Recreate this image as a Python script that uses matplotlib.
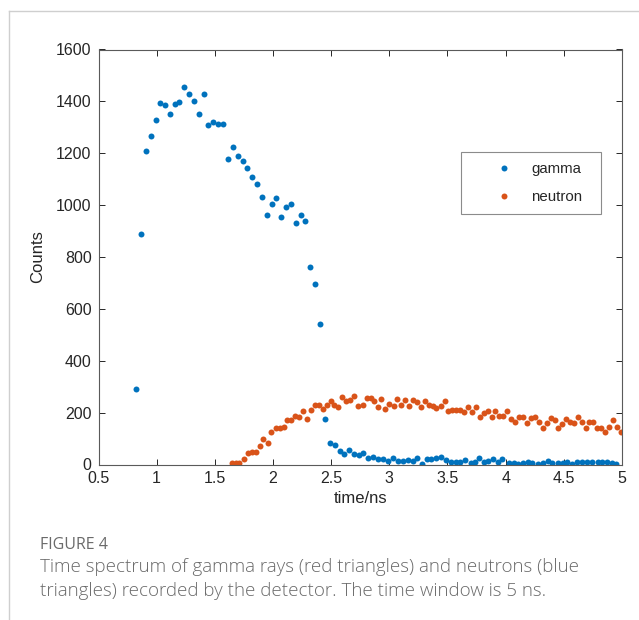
"""
Time spectrum of gamma rays and neutrons recorded by the detector.
"""
import matplotlib
matplotlib.use('Agg')
import matplotlib.pyplot as plt
from matplotlib.lines import Line2D

# gamma counts per time bin (ns)
gamma_t = [0.821, 0.863, 0.906, 0.949, 0.990, 1.030, 1.073, 1.113, 1.156, 1.196,
           1.239, 1.279, 1.322, 1.362, 1.405, 1.445, 1.488, 1.531, 1.571, 1.614,
           1.654, 1.697, 1.740, 1.780, 1.820, 1.863, 1.906, 1.946, 1.989, 2.029,
           2.072, 2.112, 2.155, 2.195, 2.238, 2.278, 2.321, 2.364, 2.407, 2.444,
           2.487, 2.530, 2.573, 2.613, 2.656, 2.696, 2.740, 2.774, 2.817, 2.860,
           2.903, 2.946, 2.989, 3.032, 3.075, 3.118, 3.161, 3.200, 3.237, 3.280,
           3.320, 3.360, 3.400, 3.440, 3.490, 3.530, 3.570, 3.610, 3.650, 3.700,
           3.740, 3.773, 3.810, 3.850, 3.890, 3.930, 3.970, 4.030, 4.070, 4.110,
           4.150, 4.190, 4.230, 4.280, 4.320, 4.360, 4.400, 4.450, 4.490, 4.530,
           4.570, 4.610, 4.660, 4.700, 4.740, 4.790, 4.830, 4.870, 4.910, 4.950]
gamma_counts = [293, 890, 1208, 1268, 1327, 1395, 1387, 1350, 1390, 1398,
                1455, 1430, 1400, 1350, 1427, 1308, 1320, 1313, 1313, 1179,
                1224, 1191, 1171, 1143, 1109, 1083, 1030, 963, 1006, 1029,
                956, 992, 1006, 930, 963, 939, 762, 694, 542, 175,
                84, 75, 51, 40, 55, 42, 38, 43, 26, 30,
                21, 21, 13, 26, 13, 15, 18, 15, 26, 2,
                21, 21, 26, 30, 18, 10, 10, 10, 18, 5,
                8, 24, 10, 13, 21, 10, 21, 5, 5, 1,
                5, 10, 5, 3, 5, 13, 6, 6, 6, 8,
                3, 8, 10, 10, 10, 8, 10, 8, 6, 1]

# neutron counts per time bin (ns)
neutron_t = [1.649, 1.683, 1.710, 1.748, 1.783, 1.820, 1.855, 1.886, 1.917, 1.954,
             1.986, 2.023, 2.058, 2.092, 2.121, 2.158, 2.192, 2.224, 2.255, 2.290,
             2.324, 2.359, 2.392, 2.427, 2.462, 2.496, 2.528, 2.562, 2.597, 2.631,
             2.665, 2.697, 2.732, 2.770, 2.804, 2.839, 2.870, 2.903, 2.932, 2.966,
             3.000, 3.037, 3.066, 3.100, 3.135, 3.169, 3.200, 3.235, 3.270, 3.304,
             3.338, 3.373, 3.404, 3.440, 3.476, 3.507, 3.541, 3.576, 3.610, 3.640,
             3.676, 3.710, 3.742, 3.776, 3.810, 3.848, 3.880, 3.910, 3.945, 3.977,
             4.011, 4.046, 4.083, 4.117, 4.151, 4.183, 4.220, 4.254, 4.283, 4.320,
             4.352, 4.386, 4.420, 4.452, 4.486, 4.520, 4.552, 4.586, 4.620, 4.655,
             4.689, 4.720, 4.755, 4.789, 4.823, 4.858, 4.890, 4.924, 4.958, 4.992]
neutron_counts = [7, 6, 7, 20, 45, 47, 47, 73, 97, 84,
                  124, 141, 141, 146, 172, 172, 188, 182, 206, 175,
                  210, 231, 231, 215, 231, 243, 228, 222, 260, 244,
                  248, 265, 227, 230, 258, 255, 245, 223, 252, 213,
                  233, 225, 252, 229, 249, 225, 249, 242, 220, 245,
                  229, 225, 217, 225, 245, 206, 210, 210, 210, 204,
                  220, 204, 223, 182, 197, 207, 184, 207, 188, 188,
                  207, 175, 163, 182, 184, 159, 180, 184, 163, 140,
                  159, 178, 172, 142, 156, 175, 165, 159, 182, 163,
                  140, 163, 163, 142, 142, 124, 143, 172, 143, 124]

x_ticks = [0.5, 1, 1.5, 2, 2.5, 3, 3.5, 4, 4.5, 5]
x_tick_labels = ['0.5', '1', '1.5', '2', '2.5', '3', '3.5', '4', '4.5', '5']
y_ticks = [0, 200, 400, 600, 800, 1000, 1200, 1400, 1600]

BLUE = '#0072BD'
ORANGE = '#D95319'
AXIS_COLOR = '#262626'

plt.rcParams['font.family'] = ['Liberation Sans', 'DejaVu Sans']

fig = plt.figure(figsize=(6.39, 6.2), dpi=100)

# light frame around the figure panel
fig.add_artist(Line2D([9 / 639, 9 / 639], [0, 1 - 11 / 620], color='#cfcfcf', lw=1))
fig.add_artist(Line2D([9 / 639, 1], [1 - 11 / 620, 1 - 11 / 620], color='#cfcfcf', lw=1))

ax = fig.add_axes([98.5 / 639, 1 - 464.5 / 620, 523.5 / 639, 415 / 620])
ax.plot(gamma_t, gamma_counts, 'o', color=BLUE, ms=4.3, mew=0, label='gamma')
ax.plot(neutron_t, neutron_counts, 'o', color=ORANGE, ms=4.3, mew=0, label='neutron')

ax.set_xlim(0.5, 5)
ax.set_ylim(0, 1600)
ax.set_xticks(x_ticks)
ax.set_xticklabels(x_tick_labels)
ax.set_yticks(y_ticks)
ax.tick_params(direction='in', top=True, right=True, length=4, width=0.7,
               labelsize=11.5, colors=AXIS_COLOR, pad=5)
for s in ax.spines.values():
    s.set_color('#5a5a5a')
    s.set_linewidth(0.8)

ax.set_xlabel('time/ns', fontsize=12, color=AXIS_COLOR, labelpad=3)
ax.set_ylabel('Counts', fontsize=12, color=AXIS_COLOR, labelpad=8)

# legend box spans 460..601 px horizontally, top at 152 px
leg_w = 140.5 / 523.5
leg_top = (464.5 - 152) / 415
leg = ax.legend(loc='upper left', bbox_to_anchor=(362 / 523.5, leg_top - 0.2, leg_w, 0.2),
                mode='expand', fontsize=10.8, frameon=True, fancybox=False,
                borderpad=0.65, labelspacing=0.95, handlelength=4.53,
                handletextpad=-0.46, borderaxespad=0)
leg.get_frame().set_edgecolor('#6e6e6e')
leg.get_frame().set_linewidth(0.8)
for t in leg.get_texts():
    t.set_color(AXIS_COLOR)

# caption
cap_font = ['Open Sans', 'DejaVu Sans']
fig.text(40 / 639, 1 - 545 / 620, 'FIGURE 4', fontsize=11.5, color='#6a6a6a',
         family=cap_font, va='center', ha='left')
fig.text(40 / 639, 1 - 567 / 620,
         'Time spectrum of gamma rays (red triangles) and neutrons (blue',
         fontsize=13.5, color='#6a6a6a', family=cap_font, va='center', ha='left',
         fontweight='light')
fig.text(40 / 639, 1 - 591 / 620,
         'triangles) recorded by the detector. The time window is 5 ns.',
         fontsize=13.5, color='#6a6a6a', family=cap_font, va='center', ha='left',
         fontweight='light')

fig.savefig('out.png', dpi=100)
